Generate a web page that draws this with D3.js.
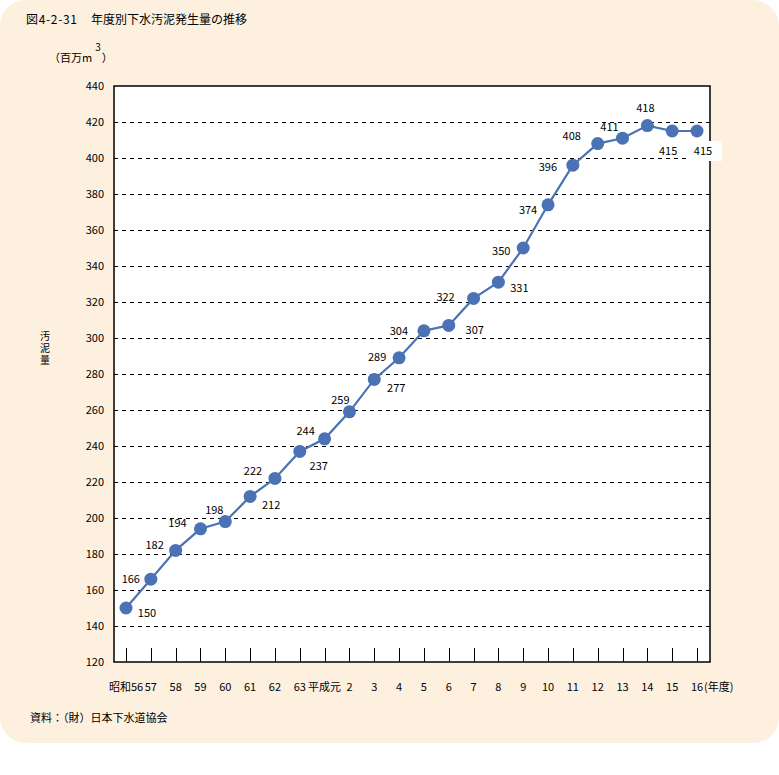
<!DOCTYPE html>
<html><head><meta charset="utf-8">
<script src="https://cdn.jsdelivr.net/npm/d3@7"></script>
<style>body{margin:0;background:#fff;} svg{display:block;} text{font-family:"Noto Sans CJK JP","Noto Sans",sans-serif;}</style>
</head><body>
<svg id="c" width="779" height="775"></svg>
<script>
const categories = ["昭和56","57","58","59","60","61","62","63","平成元","2","3","4","5","6","7","8","9","10","11","12","13","14","15","16"];
const values = [150,166,182,194,198,212,222,237,244,259,277,289,304,307,322,331,350,374,396,408,411,418,415,415];
const yTicks = [120,140,160,180,200,220,240,260,280,300,320,340,360,380,400,420,440];
const gridValues = [140,160,180,200,220,240,260,280,300,320,340,360,380,400,420];
const yTitleChars = ["汚","泥","量"];

(function(){
// label offsets (styling): text centre relative to marker, per point
const labelOffsets = [[21,5],[-20,0],[-21,-5],[-23,-6],[-11,-11],[21,9],[-22,-7],[19,15],[-19,-8],[-9,-12],
  [22,9],[-22,-1],[-25,0],[26,5],[-28,-1],[21,6],[-22,3],[-20,5],[-25,2],[-26,-7],[-13,-11],[-2,-17],[-4,20],[6,20]];

const svg = d3.select("#c");
svg.append("rect").attr("x",0).attr("y",0).attr("width",779).attr("height",743).attr("rx",26).attr("fill","#FDF0DF");

const pL=114, pR=710, pT=86, pB=662;
const x = d3.scalePoint().domain(categories).range([126,697]);
const y = d3.scaleLinear().domain([120,440]).range([pB,pT]);

svg.append("rect").attr("x",pL).attr("y",pT).attr("width",pR-pL).attr("height",pB-pT).attr("fill","#fff");

// grid
svg.append("g").selectAll("line").data(gridValues).join("line")
  .attr("x1",pL).attr("x2",pR).attr("y1",d=>Math.round(y(d))+0.5).attr("y2",d=>Math.round(y(d))+0.5)
  .attr("stroke","#000").attr("stroke-width",1).attr("stroke-dasharray","4,4");

// frame
svg.append("rect").attr("x",pL).attr("y",pT).attr("width",pR-pL).attr("height",pB-pT)
  .attr("fill","none").attr("stroke","#000").attr("stroke-width",1.5);

// y axis labels
svg.append("g").selectAll("text").data(yTicks).join("text")
  .attr("x",104).attr("y",d=>y(d)).attr("dy","0.35em").attr("text-anchor","end")
  .attr("font-size",11).attr("fill","#000").text(d=>d);

// x ticks
svg.append("g").selectAll("line").data(categories).join("line")
  .attr("x1",d=>Math.round(x(d))+0.5).attr("x2",d=>Math.round(x(d))+0.5).attr("y1",pB).attr("y2",pB-14)
  .attr("stroke","#000").attr("stroke-width",1);

// x labels
svg.append("g").selectAll("text").data(categories).join("text")
  .attr("x",d=>x(d)).attr("y",691).attr("text-anchor","middle")
  .attr("font-size",11).attr("fill","#000").text(d=>d);
svg.append("text").attr("x",x("16")+7).attr("y",691).attr("font-size",11).text("(年度)");

// line
const line = d3.line().x((d,i)=>x(categories[i])).y(d=>y(d));
svg.append("path").datum(values).attr("d",line).attr("fill","none").attr("stroke","#4A72B5").attr("stroke-width",2.2);
svg.append("g").selectAll("circle").data(values).join("circle")
  .attr("cx",(d,i)=>x(categories[i])).attr("cy",d=>y(d)).attr("r",6.5).attr("fill","#4A72B5");

// value labels
const lbl = svg.append("g");
values.forEach((v,i)=>{
  const [dx,dy] = labelOffsets[i];
  const cx = x(categories[i])+dx, cy = y(v)+dy;
  if(i===categories.length-1){
    lbl.append("rect").attr("x",cx-17).attr("y",cy-10).attr("width",36).attr("height",20).attr("fill","#fff");
  }
  lbl.append("text").attr("x",cx).attr("y",cy).attr("dy","0.35em").attr("text-anchor","middle")
    .attr("font-size",11).attr("fill","#000").text(v);
});

// titles
svg.append("text").attr("x",26).attr("y",24).attr("font-size",12).attr("textLength",51).attr("lengthAdjust","spacing").text("図4-2-31");
svg.append("text").attr("x",91).attr("y",24).attr("font-size",12).text("年度別下水汚泥発生量の推移");
const u = svg.append("text").attr("x",49).attr("y",62).attr("font-size",11);
u.append("tspan").text("（百万m");
u.append("tspan").attr("dx",3).attr("dy",-11).attr("font-size",10).text("3");
u.append("tspan").attr("dx",1).attr("dy",11).text("）");
svg.append("g").selectAll("text").data(yTitleChars).join("text")
  .attr("x",45).attr("y",(d,i)=>340+i*12).attr("text-anchor","middle").attr("font-size",10).text(d=>d);
svg.append("text").attr("x",30).attr("y",722).attr("font-size",11).text("資料：（財）日本下水道協会");
})();
</script>
</body></html>
